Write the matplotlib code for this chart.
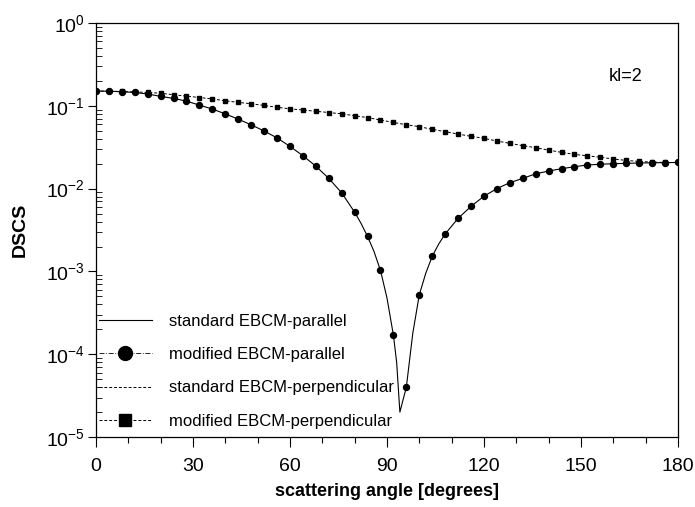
import numpy as np
import matplotlib
matplotlib.use("Agg")
import matplotlib.pyplot as plt
from matplotlib.lines import Line2D
from matplotlib.ticker import MultipleLocator, LogLocator, NullFormatter

plt.rcParams['font.family'] = ['Liberation Sans', 'DejaVu Sans']
plt.rcParams['mathtext.fontset'] = 'custom'
plt.rcParams['mathtext.rm'] = 'Liberation Sans'

# modified EBCM, every 4 degrees
angle_mod = np.arange(0, 181, 4)
par_mod = [0.151, 0.150, 0.148, 0.145, 0.139, 0.130, 0.123, 0.114, 0.102, 0.0914,
           0.080, 0.069, 0.059, 0.0497, 0.041, 0.0324, 0.025, 0.0187, 0.0133, 0.0089,
           0.0052, 0.00265, 0.00103, 1.7e-4, 4.0e-5, 5.2e-4, 0.00152, 0.00283, 0.00438, 0.0061,
           0.0081, 0.0100, 0.0118, 0.0133, 0.0151, 0.0163, 0.0174, 0.0184, 0.0193, 0.0197,
           0.0200, 0.0202, 0.0204, 0.0205, 0.0206, 0.0207]
perp_mod = [0.151, 0.150, 0.149, 0.147, 0.145, 0.142, 0.136, 0.131, 0.126, 0.121,
            0.115, 0.110, 0.106, 0.101, 0.096, 0.092, 0.089, 0.086, 0.083, 0.080,
            0.076, 0.072, 0.0674, 0.063, 0.059, 0.056, 0.052, 0.0487, 0.0456, 0.0428,
            0.0405, 0.0376, 0.0352, 0.033, 0.0312, 0.0292, 0.0274, 0.0259, 0.0249, 0.0239,
            0.0228, 0.0219, 0.0213, 0.0209, 0.0207, 0.0207]

# standard EBCM, denser near the dip
angle_std = [0, 4, 8, 12, 16, 20, 24, 28, 32, 36, 40, 44, 48, 52, 56, 60, 64, 68, 72, 76,
             80, 82, 84, 86, 88, 90, 92, 93, 94, 96, 98, 100, 102, 104, 106, 108, 112, 116,
             120, 124, 128, 132, 136, 140, 144, 148, 152, 156, 160, 164, 168, 172, 176, 180]
par_std = [0.151, 0.150, 0.148, 0.145, 0.139, 0.130, 0.123, 0.114, 0.102, 0.0914,
           0.080, 0.069, 0.059, 0.0497, 0.041, 0.0324, 0.025, 0.0187, 0.0133, 0.0089,
           0.0052, 0.0038, 0.00265, 0.00174, 0.00103, 4.8e-4, 1.7e-4, 8e-5, 2.0e-5, 4.0e-5,
           1.8e-4, 5.2e-4, 9.5e-4, 0.00152, 0.00214, 0.00283, 0.00438, 0.0061,
           0.0081, 0.0100, 0.0118, 0.0133, 0.0151, 0.0163, 0.0174, 0.0184, 0.0193, 0.0197,
           0.0200, 0.0202, 0.0204, 0.0205, 0.0206, 0.0207]
perp_std = perp_mod

labels = ['standard EBCM-parallel', 'modified EBCM-parallel',
          'standard EBCM-perpendicular', 'modified EBCM-perpendicular']

fig = plt.figure(figsize=(6.95, 5.07), dpi=100)
ax = fig.add_axes([0.138, 0.138, 0.8375, 0.8166])

ax.plot(angle_std, par_std, '-', color='black', lw=0.8)
ax.plot(angle_mod, par_mod, 'o', ms=4.3, color='black')
ax.plot(angle_mod, perp_std, ls=(0, (3, 2)), color='black', lw=0.7)
ax.plot(angle_mod, perp_mod, 's', ms=3.4, color='black')

handles = [
    Line2D([], [], color='black', lw=0.8),
    Line2D([], [], color='black', lw=0.6, ls=(0, (6, 2, 1, 2)), marker='o', ms=10),
    Line2D([], [], color='black', lw=0.7, ls=(0, (3, 2))),
    Line2D([], [], color='black', lw=0.7, ls=(0, (3, 2)), marker='s', ms=8),
]

ax.set_yscale('log')
ax.set_xlim(0, 180)
ax.set_ylim(1e-5, 1)
ax.xaxis.set_major_locator(MultipleLocator(30))
ax.xaxis.set_minor_locator(MultipleLocator(10))
ax.yaxis.set_major_locator(LogLocator(base=10, numticks=10))
ax.yaxis.set_minor_locator(LogLocator(base=10, subs=np.arange(2, 10), numticks=10))
ax.yaxis.set_minor_formatter(NullFormatter())
ax.tick_params(axis='x', which='major', direction='out', length=7, width=0.8, labelsize=14, pad=8)
ax.tick_params(axis='x', which='minor', direction='out', length=4, width=0.8)
ax.tick_params(axis='y', which='major', direction='out', length=6, width=0.8, labelsize=14, pad=2)
ax.tick_params(axis='y', which='minor', direction='in', length=4, width=0.6)
for s in ax.spines.values():
    s.set_linewidth(0.9)

ax.set_xlabel('scattering angle [degrees]', fontsize=13, fontweight='bold', labelpad=6)
ax.set_ylabel('DSCS', fontsize=14, fontweight='bold', labelpad=12)

ax.text(0.91, 0.87, 'kl=2', transform=ax.transAxes, fontsize=13, ha='center', va='center')

ax.legend(handles, labels, loc='lower left', bbox_to_anchor=(0.005, 0.02), frameon=False,
          fontsize=12, handlelength=3.2, handletextpad=1.0, labelspacing=1.1, borderpad=0,
          borderaxespad=0)

fig.savefig('out.png', dpi=100)
